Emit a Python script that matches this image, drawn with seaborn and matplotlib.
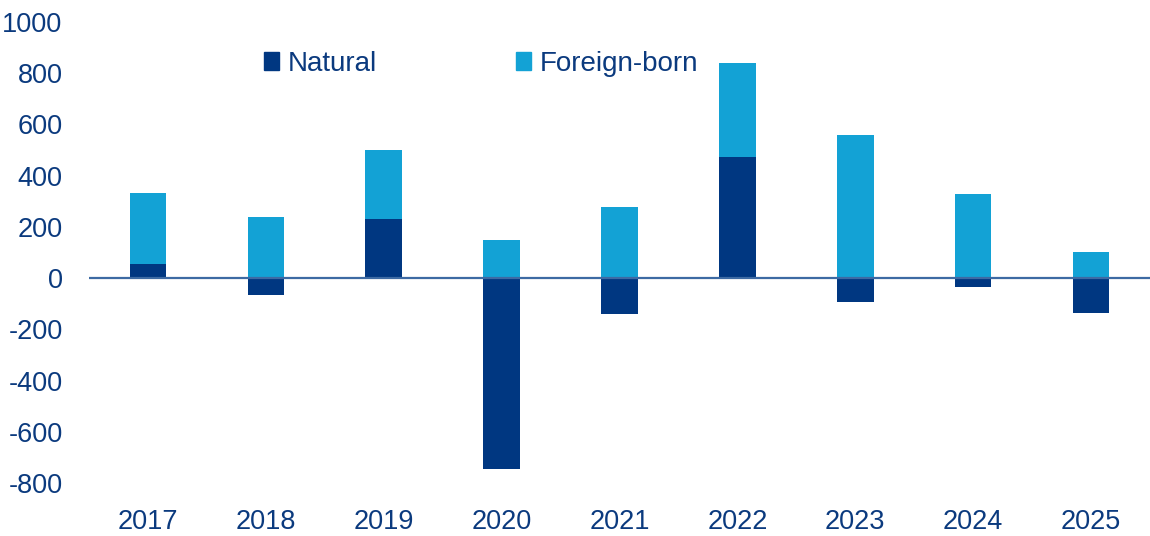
import numpy as np
import pandas as pd
import seaborn as sns
import matplotlib.pyplot as plt
from matplotlib.patches import Patch

years = ["2017", "2018", "2019", "2020", "2021", "2022", "2023", "2024", "2025"]
natural = [56, -64, 231, -746, -141, 472, -92, -36, -138]
foreign_born = [277, 238, 271, 150, 277, 368, 557, 327, 102]

navy = "#003781"
light = "#13A2D5"
text_col = "#0B3A7E"

df = pd.DataFrame({"Year": years, "Natural": natural, "Foreign-born": foreign_born})
# excel-style stacking: foreign-born sits on top of positive natural, starts at 0 otherwise
df["Top"] = df["Natural"].clip(lower=0) + df["Foreign-born"]

sns.set_theme(style="white")
plt.rcParams["font.family"] = ["Liberation Sans", "DejaVu Sans"]
plt.rcParams["axes.unicode_minus"] = False

fig = plt.figure(figsize=(11.5, 5.36), dpi=100)
ax = fig.add_axes([89 / 1150, 1 - 483 / 536, 1 - 89 / 1150, (483 - 22) / 536])

sns.barplot(data=df, x="Year", y="Top", order=years, color=light, width=0.31,
            saturation=1, linewidth=0, ax=ax)
sns.barplot(data=df, x="Year", y="Natural", order=years, color=navy, width=0.31,
            saturation=1, linewidth=0, ax=ax)

ax.axhline(0, color="#3D6AA3", lw=1.6, zorder=3)
ax.set_xlim(-0.5, 8.5)
ax.set_ylim(-800, 1000)
ax.set_yticks(range(-800, 1001, 200))
ax.set_xlabel("")
ax.set_ylabel("")
for s in ax.spines.values():
    s.set_visible(False)
ax.tick_params(axis="y", length=0, pad=19, labelsize=19.5, labelcolor=text_col)
ax.tick_params(axis="x", length=0, pad=19, labelsize=19.5, labelcolor=text_col)

handles = [Patch(color=navy, label="Natural"), Patch(color=light, label="Foreign-born")]
leg = fig.legend(handles=handles, loc="upper left", bbox_to_anchor=(264 / 1150, 1 - 51 / 536),
                 ncol=2, frameon=False, fontsize=20, handlelength=0.55, handleheight=0.6,
                 handletextpad=0.3, columnspacing=5.0, borderpad=0, borderaxespad=0)
for t in leg.get_texts():
    t.set_color(text_col)

fig.savefig("out.png", dpi=100)
